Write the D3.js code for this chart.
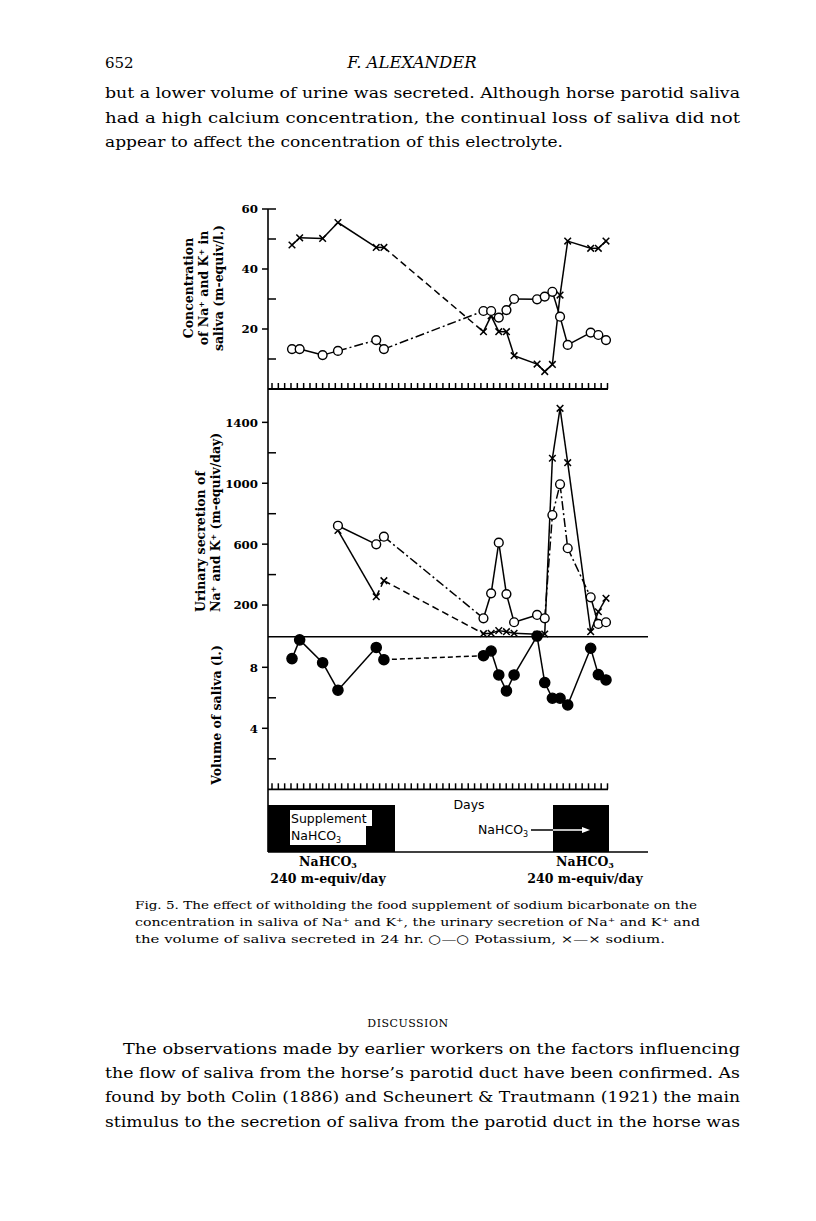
<!DOCTYPE html>
<html><head><meta charset="utf-8">
<script src="https://cdn.jsdelivr.net/npm/d3@7"></script>
<style>body{margin:0;background:#fff}svg{display:block}</style>
</head><body>
<svg id="c" width="816" height="1221"></svg>
<script>
// ---------- data ----------
const days = [0,1,4,6,11,12,25,26,27,28,29,32,33,34,35,36,39,40,41];
const salivaNa = [48,50.4,50.2,55.5,47.2,47.2,19.1,24.4,19.1,19.1,11.1,8.3,5.8,8.2,31.3,49.3,46.9,46.9,49.3];
const salivaK  = [13.3,13.3,11.3,12.7,16.3,13.3,26,26,23.8,26.3,30,29.9,30.8,32.4,24.1,14.7,18.8,18,16.3];
const urineDays = [6,11,12,25,26,27,28,29,32,33,34,35,36,39,40,41];
const urineK  = [721,599,649,113,277,610,272,87,135,113,791,993,573,251,76,87];
const urineNa = [690,255,360,12,15,32,25,15,8,10,1164,1492,1135,25,156,244];
const salivaVol = [8.57,9.8,8.3,6.5,9.3,8.5,8.76,9.07,7.5,6.45,7.5,10.05,7.0,5.97,5.97,5.53,9.25,7.52,7.17];
const topTicks = [20,40,60], topMinor = [10,30,50];
const midTicks = [200,600,1000,1400], midMinor = [400,800,1200];
const botTicks = [4,8], botMinor = [2,6];
const dayTickCount = 54;

const headerLeft = "652", headerTitle = "F. ALEXANDER";
const bodyTop = [
 "but a lower volume of urine was secreted. Although horse parotid saliva",
 "had a high calcium concentration, the continual loss of saliva did not",
 "appear to affect the concentration of this electrolyte."];
const captionLines = [
 "Fig. 5.  The effect of witholding the food supplement of sodium bicarbonate on the",
 "concentration in saliva of Na\u207A and K\u207A, the urinary secretion of Na\u207A and K\u207A and",
 "the volume of saliva secreted in 24 hr. \u25CB\u2014\u25CB Potassium,  \u00D7\u2014\u00D7  sodium."];
const discussionTitle = "DISCUSSION";
const bodyBottom = [
 "The observations made by earlier workers on the factors influencing",
 "the flow of saliva from the horse\u2019s parotid duct have been confirmed. As",
 "found by both Colin (1886) and Scheunert & Trautmann (1921) the main",
 "stimulus to the secretion of saliva from the parotid duct in the horse was"];

// ---------- setup ----------
const svg = d3.select("#c");
svg.append("rect").attr("width",816).attr("height",1221).attr("fill","#fff");
const serif = "'DejaVu Serif', serif";
const sans = "'DejaVu Sans', 'Liberation Sans', sans-serif";

// page text
svg.append("text").attr("x",105).attr("y",68).attr("font-family",serif).attr("font-size",15).text(headerLeft);
svg.append("text").attr("x",412).attr("y",68).attr("text-anchor","middle").attr("font-family",serif)
  .attr("font-style","italic").attr("font-size",16.5).text(headerTitle);
const topLens = [635,635,458];
bodyTop.forEach((t,i)=>{
  svg.append("text").attr("x",105).attr("y",98+i*24.5).attr("font-family",serif).attr("font-size",15.5)
    .attr("textLength",topLens[i]).attr("lengthAdjust","spacingAndGlyphs").text(t);
});
const capLens = [562,565,530];
captionLines.forEach((t,i)=>{
  svg.append("text").attr("x",135).attr("y",909+i*17).attr("font-family",serif).attr("font-size",11.5)
    .attr("textLength",capLens[i]).attr("lengthAdjust","spacingAndGlyphs").text(t);
});
svg.append("text").attr("x",408).attr("y",1027).attr("text-anchor","middle").attr("font-family",serif)
  .attr("font-size",11).attr("letter-spacing",0.5).text(discussionTitle);
bodyBottom.forEach((t,i)=>{
  const x0 = i===0?123:105;
  svg.append("text").attr("x",x0).attr("y",1054+i*24.2).attr("font-family",serif).attr("font-size",15.5)
    .attr("textLength",740-x0).attr("lengthAdjust","spacingAndGlyphs").text(t);
});

// ---------- scales ----------
const x = d3.scaleLinear().domain([0,41]).range([292,606]);
const yTop = d3.scaleLinear().domain([0,60]).range([389,209]);
const yMid = d3.scaleLinear().domain([0,1600]).range([635.5,391.9]);
const yBot = d3.scaleLinear().domain([0,10]).range([789.3,636.8]);
const axisX = 268;

const g = svg.append("g").attr("stroke","#000").attr("fill","none");
// vertical axis
g.append("line").attr("x1",axisX).attr("x2",axisX).attr("y1",yTop(60)).attr("y2",852).attr("stroke-width",1.6);
// horizontal rules
g.append("line").attr("x1",axisX).attr("x2",648).attr("y1",yBot(10)).attr("y2",yBot(10)).attr("stroke-width",1.4);
g.append("line").attr("x1",axisX).attr("x2",648).attr("y1",852).attr("y2",852).attr("stroke-width",1.6);

// day tick bars
const dayScale = d3.scaleLinear().domain([0,dayTickCount-1]).range([x.invert(271.5),x.invert(607)]);
function dayBar(y){
  const ax = d3.axisTop(x).tickValues(d3.range(dayTickCount).map(dayScale)).tickSize(6).tickSizeOuter(0).tickFormat("");
  const a = svg.append("g").attr("transform",`translate(0,${y})`).call(ax);
  a.select(".domain").attr("stroke-width",1.8).attr("d",`M${axisX},0H${x(dayScale(dayTickCount-1))+1}`);
  a.selectAll(".tick line").attr("stroke-width",1.5);
}
dayBar(yTop(0));
dayBar(yBot(0));

// y ticks
function yTicks(scale, major, minor){
  major.forEach(v=>{
    g.append("line").attr("x1",axisX-6).attr("x2",axisX).attr("y1",scale(v)).attr("y2",scale(v)).attr("stroke-width",1.5);
    svg.append("text").attr("x",axisX-10).attr("y",scale(v)+4.4).attr("text-anchor","end")
      .attr("font-family",serif).attr("font-weight","bold").attr("font-size",11.8).text(v);
  });
  minor.forEach(v=>{
    g.append("line").attr("x1",axisX).attr("x2",axisX+8).attr("y1",scale(v)).attr("y2",scale(v)).attr("stroke-width",1.5);
  });
}
yTicks(yTop, topTicks, topMinor);
g.append("line").attr("x1",axisX).attr("x2",axisX+8).attr("y1",yTop(60)).attr("y2",yTop(60)).attr("stroke-width",1.5);
yTicks(yMid, midTicks, midMinor);
yTicks(yBot, botTicks, botMinor);

// y axis titles
function vLabel(lines, cx, cy, anchor, step){
  lines.forEach((t,i)=>{
    svg.append("text").attr("transform",`translate(${cx+i*step},${cy}) rotate(-90)`)
      .attr("text-anchor",anchor).attr("font-family",serif).attr("font-weight","bold").attr("font-size",12.5).text(t);
  });
}
vLabel(["Concentration","of Na\u207A and K\u207A in","saliva (m-equiv/l.)"],193,288,"middle",15);
vLabel(["Urinary secretion of","Na\u207A and K\u207A (m-equiv/day)"],205,612,"start",15);
vLabel(["Volume of saliva (l.)"],221,715,"middle",15);

// ---------- series ----------
function drawSeries(dd, vv, yS, dash, extra){
  for(let i=0;i<dd.length-1;i++){
    const broken = dd[i+1]-dd[i] > 5 || (extra && extra(dd[i],dd[i+1]));
    g.append("line").attr("x1",x(dd[i])).attr("y1",yS(vv[i])).attr("x2",x(dd[i+1])).attr("y2",yS(vv[i+1]))
      .attr("stroke-width",1.5).attr("stroke-dasharray",broken?dash:null);
  }
}
function crosses(dd, vv, yS){
  dd.forEach((d,i)=>{
    g.append("path").attr("transform",`translate(${x(d)},${yS(vv[i])})`).attr("d","M-3.3,-3.3L3.3,3.3M3.3,-3.3L-3.3,3.3").attr("stroke-width",1.5);
  });
}
function circles(dd, vv, yS, filled){
  dd.forEach((d,i)=>{
    g.append("circle").attr("cx",x(d)).attr("cy",yS(vv[i])).attr("r",filled?5.1:4.4)
      .attr("fill",filled?"#000":"#fff").attr("stroke-width",1.4);
  });
}
drawSeries(days, salivaNa, yTop, "7,4");
drawSeries(days, salivaK, yTop, "9,3,2,3", (a,b)=> b-a > 4);
drawSeries(urineDays, urineNa, yMid, "7,4", (a,b)=> a===11);
// potassium urine: second (post-supplement) peak drawn dash-dot
drawSeries(urineDays, urineK, yMid, "9,3,2,3", (a,b)=> a>=33 && b<=39);
drawSeries(days, salivaVol, yBot, "5,3");
crosses(days, salivaNa, yTop);
circles(days, salivaK, yTop, false);
crosses(urineDays, urineNa, yMid);
circles(urineDays, urineK, yMid, false);
circles(days, salivaVol, yBot, true);

// ---------- bottom treatment bar ----------
svg.append("text").attr("x",469).attr("y",809).attr("text-anchor","middle").attr("font-family",sans).attr("font-size",12.5).text("Days");
svg.append("rect").attr("x",axisX).attr("y",805).attr("width",395-axisX).attr("height",47).attr("fill","#000");
svg.append("rect").attr("x",553).attr("y",805).attr("width",56).attr("height",47).attr("fill","#000");
svg.append("rect").attr("x",290).attr("y",810).attr("width",82).attr("height",16).attr("fill","#fff");
svg.append("rect").attr("x",290).attr("y",826).attr("width",76).attr("height",19).attr("fill","#fff");
svg.append("text").attr("x",291).attr("y",823).attr("font-family",sans).attr("font-size",12.5).text("Supplement");
svg.append("text").attr("x",291).attr("y",840).attr("font-family",sans).attr("font-size",12.5).text("NaHCO").append("tspan").attr("font-size",8).attr("dy",3).text("3");
svg.append("text").attr("x",478).attr("y",834).attr("font-family",sans).attr("font-size",12.5).text("NaHCO").append("tspan").attr("font-size",8).attr("dy",3).text("3");
svg.append("line").attr("x1",531).attr("x2",553).attr("y1",830).attr("y2",830).attr("stroke","#000").attr("stroke-width",1.5);
svg.append("line").attr("x1",553).attr("x2",584).attr("y1",830).attr("y2",830).attr("stroke","#fff").attr("stroke-width",1.5);
svg.append("path").attr("d","M590,830L582,827L582,833Z").attr("fill","#fff");

function doseLabel(cx){
  const t = svg.append("text").attr("x",cx).attr("y",866).attr("text-anchor","middle").attr("font-family",serif).attr("font-weight","bold").attr("font-size",12.5);
  t.append("tspan").text("NaHCO");
  t.append("tspan").attr("font-size",8).attr("dy",2).text("3");
  svg.append("text").attr("x",cx).attr("y",883).attr("text-anchor","middle").attr("font-family",serif).attr("font-weight","bold").attr("font-size",12.5).text("240 m-equiv/day");
}
doseLabel(328);
doseLabel(585);
</script>
</body></html>
